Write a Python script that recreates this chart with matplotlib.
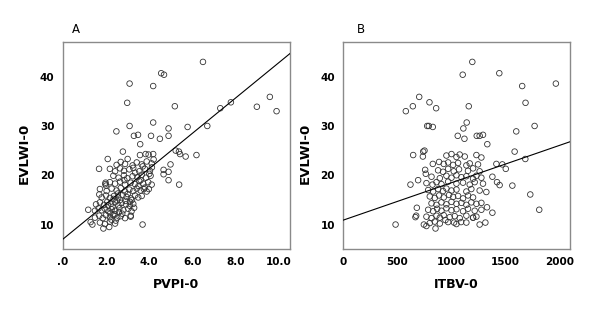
import matplotlib
matplotlib.use("Agg")
import matplotlib.pyplot as plt
import numpy as np

# ---------------- data ----------------
# Panel A: PVPI-0 vs EVLWI-0
pvpi = [
    6.48, 4.55, 4.68, 3.09, 4.18, 2.98, 5.18, 7.28, 7.77, 8.97, 9.57, 9.88,
    3.09, 4.18, 5.77, 6.68, 2.48, 3.29, 3.48, 4.08, 4.49, 4.89, 4.89, 3.58,
    5.37, 5.22, 5.68, 6.18, 5.42, 4.98, 4.66, 4.66, 4.89, 4.89, 5.38, 1.68,
    2.08, 2.78, 1.69, 1.18, 1.98, 2.00, 3.69, 1.29, 1.37, 1.88, 2.15, 3.14,
    3.97, 3.83, 4.18, 4.20, 3.57, 3.00, 3.98,
    2.49, 2.68, 2.88, 3.23, 3.42, 3.65, 3.88, 4.11,
    2.18, 2.42, 2.65, 2.83, 3.08, 3.26, 3.54, 3.80, 4.03, 4.12,
    2.34, 2.58, 2.83, 2.98, 3.23, 3.45, 3.65, 3.85, 4.06,
    1.97, 2.18, 2.42, 2.65, 2.88, 3.14, 3.34, 3.54, 3.72, 3.95, 4.11,
    1.72, 2.03, 2.26, 2.49, 2.68, 2.88, 3.08, 3.26, 3.42, 3.60, 3.75, 3.88,
    1.80, 2.00, 2.18, 2.37, 2.57, 2.77, 2.95, 3.15, 3.34, 3.49, 3.65,
    1.54, 1.72, 1.91, 2.06, 2.23, 2.42, 2.57, 2.72, 2.92, 3.11, 3.26,
    1.49, 1.66, 1.80, 1.95, 2.11, 2.26, 2.42, 2.62, 2.80, 3.03, 3.18,
    1.49, 1.69, 1.85, 2.00, 2.18, 2.34, 2.52, 2.68, 2.88, 3.14,
    1.72, 1.95, 2.18, 2.42,
    2.20, 2.30, 2.40, 2.50, 2.60, 2.10, 2.35, 2.55, 2.75, 2.90, 3.00, 3.10,
    3.20, 3.30, 3.50, 3.60, 3.70, 3.80, 4.00, 2.25, 2.45, 2.65, 2.85, 3.35,
]
evlwi_a = [
    43.0, 40.7, 40.4, 38.6, 38.1, 34.7, 34.0, 33.6, 34.8, 33.9, 35.9, 33.0,
    30.0, 30.7, 29.8, 30.0, 28.9, 28.0, 28.2, 28.0, 27.4, 29.5, 28.0, 26.3,
    24.8, 25.0, 23.8, 24.1, 24.3, 22.2, 21.1, 20.2, 20.7, 19.0, 18.1, 21.3,
    23.3, 24.8, 16.1, 13.0, 18.5, 17.9, 10.0, 10.5, 10.0, 9.2, 9.5, 11.6,
    24.2, 24.3, 24.3, 23.2, 24.1, 23.3, 17.2,
    22.1, 22.7, 22.3, 22.0, 22.6, 22.2, 22.8, 22.4,
    21.3, 20.8, 21.4, 20.9, 21.2, 21.5, 20.8, 21.3, 20.9, 21.6,
    19.9, 19.5, 20.0, 19.4, 19.8, 19.6, 20.1, 19.5, 19.9,
    18.2, 18.6, 18.3, 18.7, 18.1, 18.5, 18.2, 18.8, 18.3, 18.6, 18.1,
    17.2, 16.8, 17.3, 16.9, 17.4, 16.7, 17.1, 16.8, 17.3, 16.9, 17.2, 16.7,
    15.5, 15.9, 15.4, 15.8, 15.5, 16.0, 15.6, 15.3, 15.9, 15.5, 15.8,
    14.1, 14.5, 14.0, 14.6, 14.2, 14.5, 13.9, 14.4, 14.1, 14.6, 14.2,
    12.8, 13.3, 12.9, 13.2, 12.7, 13.1, 12.8, 13.3, 12.9, 13.2, 12.7,
    11.4, 11.8, 11.3, 11.9, 11.5, 11.9, 11.4, 11.7, 11.3, 11.8,
    10.4, 10.1, 10.6, 10.2,
    12.3, 13.6, 12.1, 14.9, 12.5, 13.9, 15.2, 16.3, 12.2, 14.8, 16.2, 13.8,
    15.0, 13.4, 17.8, 19.0, 21.8, 17.5, 20.3, 11.0, 10.8, 15.0, 19.0, 20.5,
]

# Panel B: ITBV-0 vs EVLWI-0
itbv = [
    1195, 1106, 1445, 1969, 1657, 1688, 1162, 703, 798, 579, 644, 860,
    777, 792, 829, 1772, 1602, 1143, 1112, 1060, 1122, 1236, 1263, 1294,
    1334, 1587, 1686, 647, 740, 752, 737, 1473, 1418, 1505, 1381, 1424,
    1448, 1566, 1732, 1815, 1331, 1381, 484, 854, 622, 693, 764, 758,
    829, 887, 675, 668, 681, 746, 770, 1263, 1202, 1316, 1091, 946, 1026,
    955, 1002, 1048, 1078, 1125, 1233, 1279,
    930, 971, 1017, 1063, 1140, 1171, 1248,
    878, 924, 971, 1023, 1072, 1155, 1202, 1263,
    817, 894, 955, 1002, 1048, 1094, 1140, 1202, 1233, 1279,
    770, 826, 863, 909, 971, 1048, 1109, 1171, 1217, 1294,
    786, 832, 878, 924, 955, 1002, 1048, 1140, 1186, 1263, 1325,
    801, 847, 887, 930, 980, 1017, 1063, 1109, 1155, 1202,
    817, 863, 909, 955, 1002, 1048, 1094, 1140, 1186, 1233, 1279,
    786, 832, 869, 909, 955, 1002, 1048, 1109, 1155, 1217, 1279,
    770, 817, 863, 894, 930, 986, 1032, 1078, 1140, 1202, 1233,
    801, 847, 894, 971, 1048, 1140,
]
evlwi_b = [
    43.0, 40.4, 40.7, 38.6, 38.1, 34.7, 34.0, 35.9, 34.8, 33.0, 34.0, 33.6,
    30.0, 30.0, 29.8, 30.0, 28.9, 30.7, 29.5, 28.0, 27.4, 28.0, 28.0, 28.2,
    26.3, 24.8, 23.3, 24.1, 24.8, 25.0, 23.8, 22.2, 22.3, 21.3, 19.7, 18.6,
    18.0, 17.9, 16.1, 13.0, 13.5, 12.4, 10.0, 9.2, 18.1, 19.0, 20.3, 21.1,
    22.3, 22.7, 11.8, 11.5, 13.4, 10.0, 9.7, 10.0, 11.4, 10.4, 10.5, 10.9, 10.4,
    24.0, 24.3, 23.7, 24.2, 23.8, 24.1, 23.6,
    22.3, 22.6, 22.1, 22.5, 22.0, 22.4, 22.2,
    21.0, 20.7, 21.3, 20.8, 21.2, 20.9, 21.4, 20.8,
    19.7, 19.4, 19.9, 19.5, 20.0, 19.6, 19.8, 19.3, 19.9, 19.5,
    18.4, 18.1, 18.6, 18.2, 18.7, 18.3, 18.5, 18.1, 18.6, 18.3,
    17.0, 16.7, 17.2, 16.8, 17.3, 16.9, 17.1, 16.7, 17.2, 16.9, 16.6,
    15.7, 15.4, 15.9, 15.5, 16.0, 15.6, 15.8, 15.3, 15.9, 15.5,
    14.3, 14.0, 14.5, 14.1, 14.6, 14.2, 14.4, 14.0, 14.5, 14.2, 14.4,
    13.0, 12.7, 13.2, 12.8, 13.3, 12.9, 13.1, 12.7, 13.2, 12.8, 13.0,
    11.6, 11.3, 11.8, 11.4, 11.9, 11.5, 11.7, 11.3, 11.8, 11.4, 11.6,
    10.3, 10.6, 10.2, 10.5, 10.1, 10.4,
]

# regression lines (intercept, slope)
fit_a = (7.0, 3.59)
fit_b = (10.9, 0.00757)

xticks_a = [0, 2, 4, 6, 8, 10]
xticklabels_a = [".0", "2.0", "4.0", "6.0", "8.0", "10.0"]
xticks_b = [0, 500, 1000, 1500, 2000]
xticklabels_b = ["0", "500", "1000", "1500", "2000"]
yticks = [10, 20, 30, 40]
yticklabels = ["10", "20", "30", "40"]

# ---------------- figure ----------------
fig = plt.figure(figsize=(6.0, 3.29), dpi=100)
plt.rcParams['font.family'] = ['DejaVu Sans']

panels = [
    dict(rect=[0.1045, 0.2441, 0.3788, 0.6292], x=pvpi, y=evlwi_a, fit=fit_a,
         xlim=(0, 10.5), xt=xticks_a, xtl=xticklabels_a, xlabel="PVPI-0", letter="A", lx=0.058),
    dict(rect=[0.5722, 0.2441, 0.3778, 0.6292], x=itbv, y=evlwi_b, fit=fit_b,
         xlim=(0, 2100), xt=xticks_b, xtl=xticklabels_b, xlabel="ITBV-0", letter="B", lx=0.078),
]

for p in panels:
    ax = fig.add_axes(p["rect"])
    ax.scatter(p["x"], p["y"], s=16, facecolors='none', edgecolors='#333333',
               linewidths=0.6, zorder=2)
    xs = np.array(p["xlim"], dtype=float)
    ax.plot(xs, p["fit"][0] + p["fit"][1] * xs, color='black', lw=0.8, zorder=3)
    ax.set_xlim(*p["xlim"])
    ax.set_ylim(5.1, 47.1)
    ax.set_xticks(p["xt"])
    ax.set_xticklabels(p["xtl"], fontsize=7.5, fontweight='bold')
    ax.set_yticks(yticks)
    ax.set_yticklabels(yticklabels, fontsize=7.5, fontweight='bold')
    ax.tick_params(length=0, pad=6)
    for sp in ax.spines.values():
        sp.set_color('#8a8a8a')
        sp.set_linewidth(1.0)
    ax.text(0.5, -0.175, p["xlabel"], transform=ax.transAxes, ha='center', va='center',
            fontsize=9, fontweight='bold')
    ax.text(-0.168, 0.46, "EVLWI-0", transform=ax.transAxes, ha='center', va='center',
            rotation=90, fontsize=9.5, fontweight='bold')
    ax.text(p["lx"], 1.061, p["letter"], transform=ax.transAxes, ha='center', va='center',
            fontsize=8.5)

fig.savefig("out.png", dpi=100)
